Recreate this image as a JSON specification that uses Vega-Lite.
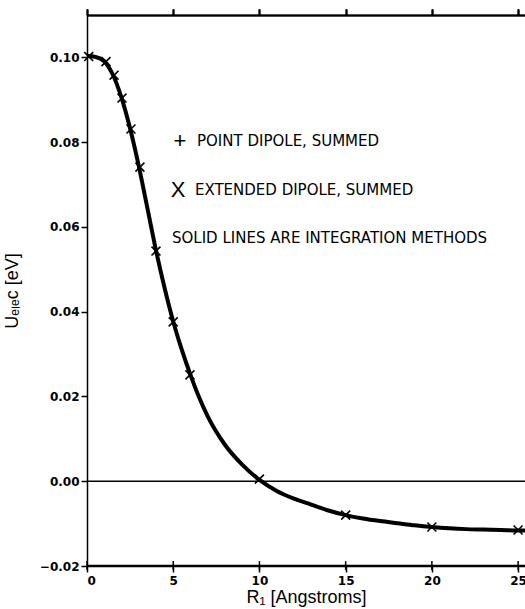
{
  "$schema": "https://vega.github.io/schema/vega-lite/v6.json",
  "width": 438,
  "height": 551,
  "autosize": {"type": "none"},
  "padding": {"left": 87, "top": 15, "right": 0, "bottom": 43},
  "background": "white",
  "config": {
    "view": {"stroke": null},
    "axis": {
      "grid": false,
      "domainColor": "black",
      "domainWidth": 1.5,
      "tickColor": "black",
      "tickWidth": 1.5,
      "tickSize": 6,
      "labelColor": "black",
      "titleColor": "black"
    }
  },
  "datasets": {
    "curve": [
      {"r": 0, "u": 0.1003}, {"r": 0.5, "u": 0.1001}, {"r": 1, "u": 0.0991},
      {"r": 1.5, "u": 0.0959}, {"r": 2, "u": 0.0905}, {"r": 2.5, "u": 0.0832},
      {"r": 3, "u": 0.0744}, {"r": 3.5, "u": 0.0645}, {"r": 4, "u": 0.0545},
      {"r": 4.5, "u": 0.0456}, {"r": 5, "u": 0.0377}, {"r": 5.5, "u": 0.0310},
      {"r": 6, "u": 0.0251}, {"r": 6.5, "u": 0.0198}, {"r": 7, "u": 0.0153},
      {"r": 8, "u": 0.0086}, {"r": 9, "u": 0.0039}, {"r": 10, "u": 0.0003},
      {"r": 11, "u": -0.0023}, {"r": 12, "u": -0.0041}, {"r": 13, "u": -0.0055},
      {"r": 14, "u": -0.0069}, {"r": 15, "u": -0.0080}, {"r": 16, "u": -0.0088},
      {"r": 17, "u": -0.0094}, {"r": 18, "u": -0.0099}, {"r": 19, "u": -0.0104},
      {"r": 20, "u": -0.0108}, {"r": 21, "u": -0.0111}, {"r": 22, "u": -0.0113},
      {"r": 23, "u": -0.0114}, {"r": 24, "u": -0.0115}, {"r": 25, "u": -0.0116},
      {"r": 25.4, "u": -0.0116}
    ],
    "markers": [
      {"r": 0.1, "u": 0.1002}, {"r": 1.1, "u": 0.0990}, {"r": 1.57, "u": 0.0958},
      {"r": 2.03, "u": 0.0904}, {"r": 2.55, "u": 0.0831}, {"r": 3.07, "u": 0.0741},
      {"r": 4.0, "u": 0.0543}, {"r": 5.0, "u": 0.0376}, {"r": 5.97, "u": 0.0251},
      {"r": 10.0, "u": 0.0005}, {"r": 15.0, "u": -0.0080}, {"r": 20.0, "u": -0.0108},
      {"r": 25.0, "u": -0.0115}
    ],
    "xticks": [{"t": 0}, {"t": 5}, {"t": 10}, {"t": 15}, {"t": 20}, {"t": 25}],
    "symbols": [
      {"lx": 5.39, "ly": 0.0803, "sym": "+"},
      {"lx": 5.28, "ly": 0.0687, "sym": "X"}
    ],
    "labels": [
      {"lx": 6.38, "ly": 0.0803, "txt": "POINT DIPOLE, SUMMED"},
      {"lx": 6.26, "ly": 0.0687, "txt": "EXTENDED DIPOLE, SUMMED"},
      {"lx": 4.93, "ly": 0.0574, "txt": "SOLID LINES ARE INTEGRATION METHODS"}
    ]
  },
  "resolve": {"axis": {"x": "independent"}},
  "layer": [
    {
      "data": {"name": "curve"},
      "mark": {"type": "line", "color": "black", "strokeWidth": 4, "interpolate": "monotone", "clip": false},
      "encoding": {
        "x": {
          "field": "r", "type": "quantitative",
          "scale": {"domain": [0, 25.4], "nice": false, "zero": false},
          "axis": {
            "values": [0, 5, 10, 15, 20, 25],
            "title": "R₁ [Angstroms]",
            "labelFont": "DejaVu Sans", "labelFontSize": 12, "labelFontWeight": "bold",
            "labelPadding": 3,
            "titleFont": "Liberation Sans", "titleFontSize": 18, "titleFontWeight": "normal",
            "titlePadding": 2
          }
        },
        "y": {
          "field": "u", "type": "quantitative",
          "scale": {"domain": [-0.02, 0.11], "nice": false, "zero": false},
          "axis": {
            "values": [-0.02, 0, 0.02, 0.04, 0.06, 0.08, 0.10],
            "format": ".2f",
            "title": "Uₑₗₑc [eV]",
            "labelFont": "DejaVu Sans", "labelFontSize": 12, "labelFontWeight": "bold",
            "labelPadding": 2,
            "titleFont": "Liberation Sans", "titleFontSize": 18, "titleFontWeight": "normal",
            "titlePadding": 18
          }
        }
      }
    },
    {
      "data": {"values": [{"z": 0}, {"z": -0.0199}]},
      "mark": {"type": "rule", "color": "black", "strokeWidth": 1.5, "clip": false},
      "encoding": {"y": {"field": "z", "type": "quantitative"}}
    },
    {
      "data": {"name": "xticks"},
      "mark": {"type": "tick", "color": "black", "thickness": 1.5, "size": 9, "opacity": 1, "clip": false},
      "encoding": {
        "x": {"field": "t", "type": "quantitative", "axis": {"orient": "top", "values": [0, 5, 10, 15, 20, 25], "labels": false, "title": null}},
        "y": {"datum": -0.0199, "type": "quantitative"}
      }
    },
    {
      "data": {"name": "markers"},
      "mark": {"type": "point", "shape": "M-1,-1L1,1M-1,1L1,-1", "filled": false, "color": "black", "strokeWidth": 1.6, "size": 80, "opacity": 1},
      "encoding": {
        "x": {
          "field": "r", "type": "quantitative",
          "axis": {"orient": "top", "values": [0, 5, 10, 15, 20, 25], "labels": false, "title": null}
        },
        "y": {"field": "u", "type": "quantitative"}
      }
    },
    {
      "data": {"name": "symbols"},
      "mark": {"type": "text", "font": "Liberation Sans", "fontSize": 22, "align": "center", "baseline": "middle", "color": "black"},
      "encoding": {
        "x": {"field": "lx", "type": "quantitative", "axis": {"orient": "top", "values": [0, 5, 10, 15, 20, 25], "labels": false, "title": null}},
        "y": {"field": "ly", "type": "quantitative"},
        "text": {"field": "sym"}
      }
    },
    {
      "data": {"name": "labels"},
      "mark": {"type": "text", "font": "DejaVu Sans", "fontSize": 15, "align": "left", "baseline": "middle", "color": "black"},
      "encoding": {
        "x": {"field": "lx", "type": "quantitative", "axis": {"orient": "top", "values": [0, 5, 10, 15, 20, 25], "labels": false, "title": null}},
        "y": {"field": "ly", "type": "quantitative"},
        "text": {"field": "txt"}
      }
    }
  ]
}
